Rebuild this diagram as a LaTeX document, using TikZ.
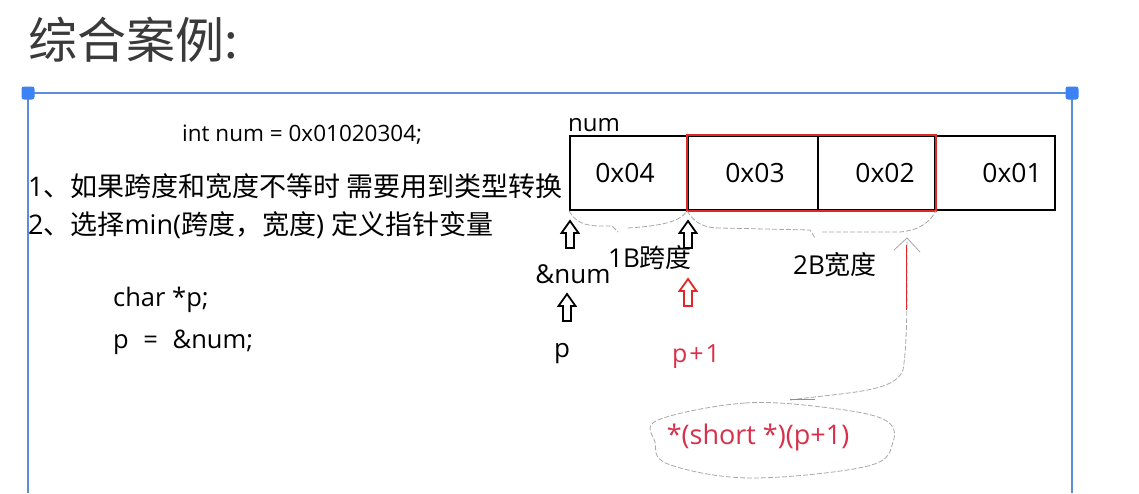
\documentclass[tikz,border=0pt]{standalone}
\usepackage{fontspec}
\setmainfont{Open Sans}
\newfontfamily\cjk{Noto Sans CJK SC}
\usetikzlibrary{arrows.meta}
\definecolor{frameblue}{HTML}{5B8DD9}
\definecolor{handleblue}{HTML}{3D82F5}
\definecolor{txtred}{HTML}{D8304A}
\definecolor{boxred}{HTML}{E02828}
\definecolor{penGray}{HTML}{A8A8A8}
\definecolor{titlegray}{HTML}{3A3A3A}
\tikzset{
  txt/.style={inner sep=0pt, font=\fontsize{#1}{#1}\selectfont},
  txt/.default=24,
  cell/.style={draw, line width=1.8pt, minimum height=74pt, inner sep=0pt},
  pen/.style={draw=penGray, line width=0.8pt, dash pattern=on 5pt off 2pt},
  hollowup/.pic={\draw[line width=1.8pt, pic actions] (0,0) -- (-8.5,12) -- (-4,12) -- (-4,27) -- (4,27) -- (4,12) -- (8.5,12) -- cycle;},
  handle/.style={fill=handleblue, rounded corners=2.5pt, minimum size=13pt, inner sep=0pt}
}
\begin{document}
\begin{tikzpicture}[x=1pt,y=-1pt]
\useasboundingbox (0,0) rectangle (1139,493);
\fill[white] (0,0) rectangle (1139,493);
% title
\node[txt=49, text=titlegray, anchor=west] (title) at (28,40) {\cjk 综合案例:};
% frame
\draw[frameblue, line width=1.8pt] (28,493) -- (28,93) -- (1072,93) -- (1072,493);
\node[handle] (h1) at (28,93) {};
\node[handle] (h2) at (1072,93) {};
% left texts
\node[txt=22.5, anchor=base west] (intnum) at (182,141) {int num = 0x01020304;};
\node[txt=27, anchor=base west] (rule1) at (28,196) {1{\cjk 、如果跨度和宽度不等时 需要用到类型转换}};
\node[txt=27, anchor=base west] (rule2) at (28,234) {2{\cjk 、选择}min({\cjk 跨度，宽度}) {\cjk 定义指针变量}};
\node[txt=25.5, anchor=base west] (charp) at (113,306) {char *p;};
\node[txt=25.5, anchor=base west] (passign) at (113,348) {p\hspace{8pt} =\hspace{8pt} \&num;};
% memory cells
\node[cell, minimum width=118pt] (c1) at (629,173) {};
\node[cell, minimum width=130pt] (c2) at (753,173) {};
\node[cell, minimum width=117pt] (c3) at (876.5,173) {};
\node[cell, minimum width=120pt] (c4) at (995,173) {};
\draw[boxred, line width=1.8pt] (c2.north west) rectangle (c3.south east);
\node[txt=26.5] (t1) at (625,173) {0x04};
\node[txt=26.5] (t2) at (755,173) {0x03};
\node[txt=26.5] (t3) at (885,173) {0x02};
\node[txt=26.5] (t4) at (1012,173) {0x01};
\node[txt=24, anchor=base west] (numlbl) at (568,131) {num};
% arrows
\pic at (570,221) {hollowup};
\pic at (688,221) {hollowup};
\pic at (567,294) {hollowup};
\pic[draw=boxred] at (688,279) {hollowup};
% labels
\node[txt=26] (amp) at (573,274) {\&num};
\node[txt=26] (plbl) at (562,354) {p};
\node[txt=25, text=txtred] (p1) at (696,357) {p\hspace{2pt}+\hspace{2pt}1};
\node[txt=26] (span) at (650,258) {1B{\cjk 跨度}};
\node[txt=26] (width) at (835,265) {2B{\cjk 宽度}};
\node[txt=27, text=txtred] (cast) at (758,437) {*(short *)(p+1)};
% braces
\draw[pen] (c1.south west) .. controls (575,222) and (585,226) .. (600,226) -- (612,226) -- (618,232);
\draw[pen] (628,228) .. controls (660,226) and (680,222) .. (c2.south west);
\draw[pen] (c2.south west) .. controls (695,224) and (705,228) .. (720,228) -- (810,230) -- (815,238);
\draw[pen] (822,232) -- (900,232) .. controls (920,230) and (930,222) .. (c3.south east);
% pointer curve
\coordinate (ctop) at (790,400);
\draw[pen] (ctop) .. controls (850,392) and (895,392) .. (903,370) .. controls (908,340) and (907,280) .. (907,242);
\draw[penGray, line width=0.8pt] (894,250) -- (907,238) -- (920,252);
\draw[boxred, line width=0.8pt] (906,245) -- (906,310);
\draw[boxred!70, line width=0.8pt] (790,399) -- (815,399);
% ellipse
\draw[pen] plot[smooth cycle, tension=0.6] coordinates {(658,420) (745,403) (830,408) (885,420) (893,442) (868,466) (750,478) (668,464) (655,442)};
\end{tikzpicture}
\end{document}
